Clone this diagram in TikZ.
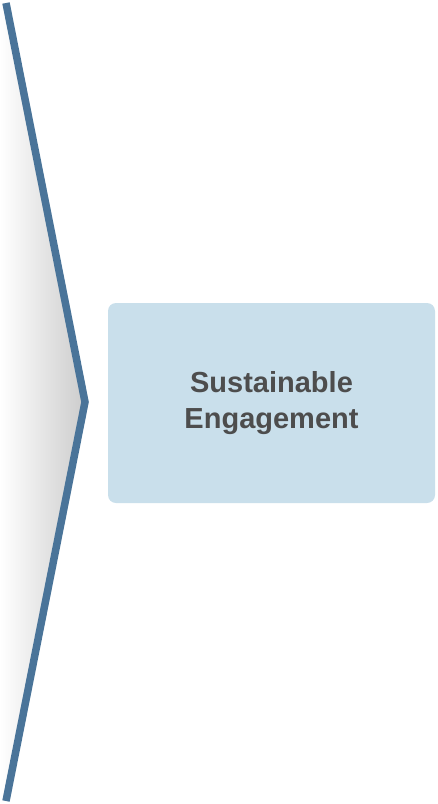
\documentclass[tikz,border=0pt]{standalone}
\usepackage{fontspec}
\setmainfont{Liberation Sans}
\usetikzlibrary{positioning}

\begin{document}
\begin{tikzpicture}[x=1pt,y=-1pt]
\definecolor{edge color}{HTML}{4A7499}
\definecolor{box color}{HTML}{C9DFEB}
\definecolor{text color}{HTML}{4D4D4D}
\tikzset{
  every node/.style={font=\fontsize{29}{35}\selectfont\bfseries},
  chevron/.style={edge color,line width=7.5pt,line join=miter,draw},
  glow/.style={left color=white,right color=black!20,draw=none},
  stage/.style={fill=box color,rounded corners=8pt,minimum width=327pt,minimum height=200pt,text=text color,align=center,inner sep=0pt}
}
\useasboundingbox (0,0) rectangle (437,804);

%CHEVRON
\coordinate (TOP) at (6,3);
\coordinate (TIP) at (85,402);
\coordinate (BOTTOM) at (6,801);
\shade[glow] (0,0) -- (TOP) -- (TIP) -- (BOTTOM) -- (0,804) -- cycle;
\path[chevron] (TOP) -- (TIP) -- (BOTTOM);

%STAGE
\node[stage] (ENGAGE) at (271.5,403) {Sustainable\\[1pt]Engagement};

\end{tikzpicture}
\end{document}
